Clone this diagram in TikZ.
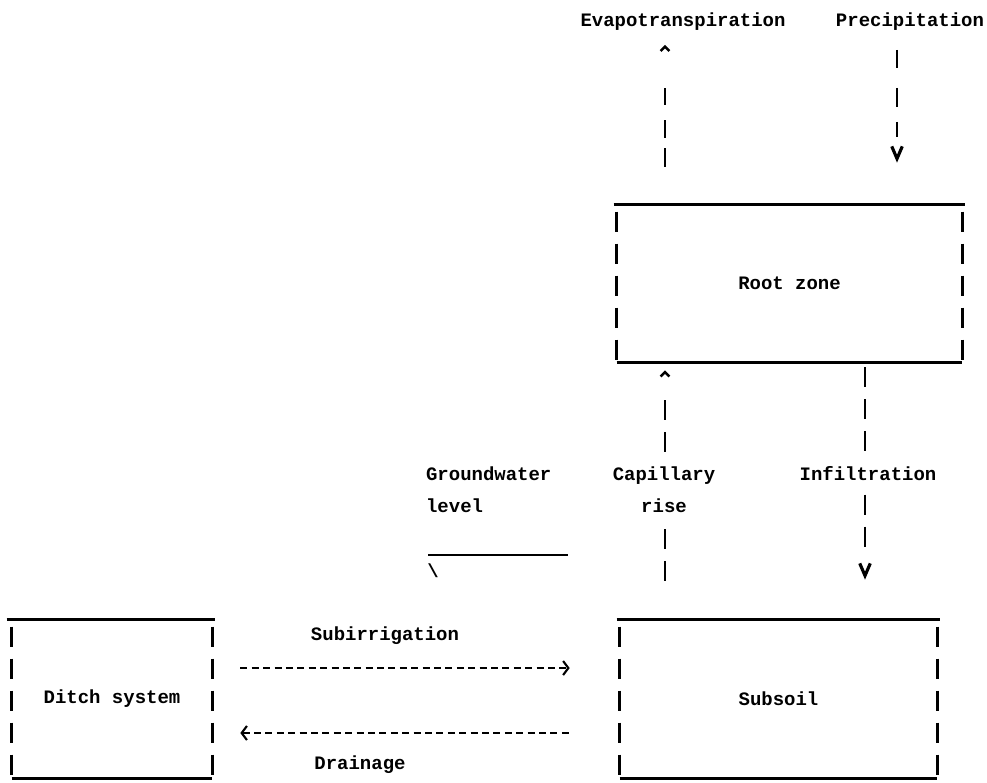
\documentclass[tikz,border=0pt]{standalone}
\usepackage{fontspec}
\setmainfont{Liberation Mono}
\usetikzlibrary{arrows.meta}
\begin{document}
\begin{tikzpicture}[
x=0.02cm, y=-0.02cm,
>={Straight Barb[length=3pt,width=8pt,line width=1.2pt]},
down/.style={-{Straight Barb[length=7pt,width=6pt,line width=1.8pt]}},
up/.style={-{Straight Barb[length=2.5pt,width=5pt,line width=1.4pt]}},
every node/.style={font=\fontsize{10.8}{18.4}\selectfont\bfseries},
lbl/.style={inner sep=1pt},
box/.style={inner sep=0pt},
rim/.style={draw,line width=1.4pt},
side/.style={draw,line width=1.6pt,dash pattern=on 0.4cm off 0.24cm,shorten <=0.14cm},
flowv/.style={draw,line width=1.6pt,dash pattern=on 0.4cm off 0.24cm},
flowh/.style={draw,line width=1.2pt,dash pattern=on 0.14cm off 0.088cm},
]

\useasboundingbox (0,0) rectangle (987,782);

%boxes
\node[box,minimum width=6.9cm,minimum height=3.14cm] (rootz) at (789.5,283.5) {Root zone};
\node[box,minimum width=6.34cm,minimum height=3.16cm] (subsoil) at (778.5,699) {Subsoil};
\node[box,minimum width=4cm,minimum height=3.16cm] (ditch) at (112,699) {Ditch system};

\path[rim] ([xshift=-0.06cm]rootz.north west) -- ([xshift=0.06cm]rootz.north east);
\path[rim] (rootz.south west) -- (rootz.south east);
\path[side] (rootz.north west) -- (rootz.south west);
\path[side] (rootz.north east) -- (rootz.south east);

\path[rim] ([xshift=-0.06cm]subsoil.north west) -- ([xshift=0.06cm]subsoil.north east);
\path[rim] (subsoil.south west) -- (subsoil.south east);
\path[side] (subsoil.north west) -- (subsoil.south west);
\path[side] (subsoil.north east) -- (subsoil.south east);

\path[rim] ([xshift=-0.1cm]ditch.north west) -- ([xshift=0.06cm]ditch.north east);
\path[rim] (ditch.south west) -- (ditch.south east);
\path[side] (ditch.north west) -- (ditch.south west);
\path[side] (ditch.north east) -- (ditch.south east);

%labels
\node[lbl] (evap) at (683,22) {Evapotranspiration};
\node[lbl] (precip) at (910,22) {Precipitation};
\node[lbl,align=center] (cap) at (664,490) {Capillary\\rise};
\node[lbl] (infil) at (868,474) {Infiltration};
\node[lbl,align=left,anchor=west] (gw) at (424,490) {Groundwater\\level};
\node[lbl] (subirr) at (385,636) {Subirrigation};
\node[lbl] (drain) at (360,765) {Drainage};
\node[lbl] (slash) at (433,571) {\textbackslash};

%groundwater level
\path[rim] (428,555) -- (568,555);

%fluxes
\coordinate (evx) at (665,0);
\coordinate (prx) at (897,0);
\coordinate (capx) at (665,0);
\coordinate (infx) at (865,0);

\path[flowv,up,shorten <=0.76cm,shorten >=0.24cm,
  dash pattern=on 0.38cm off 0.2cm on 0.36cm off 0.3cm on 0.34cm off 2cm]
  (rootz.north -| evx) -- (evap.south -| evx);
\path[flowv,down,shorten <=0.34cm,shorten >=0.84cm,
  dash pattern=on 0.36cm off 0.4cm on 0.38cm off 0.3cm on 0.3cm off 2cm]
  (precip.south -| prx) -- (rootz.north -| prx);

\path[flowv,shorten <=0.78cm,shorten >=0.28cm] (subsoil.north -| capx) -- (cap.south -| capx);
\path[flowv,up,shorten <=0.26cm,shorten >=0.16cm,
  dash pattern=on 0.4cm off 0.24cm on 0.4cm off 2cm]
  (cap.north -| capx) -- (rootz.south -| capx);

\path[flowv,shorten <=0.1cm,shorten >=0.23cm] (rootz.south -| infx) -- (infil.north -| infx);
\path[flowv,down,shorten <=0.23cm,shorten >=0.8cm,
  dash pattern=on 0.4cm off 0.24cm on 0.4cm off 2cm]
  (infil.south -| infx) -- (subsoil.north -| infx);

\path[flowh,->,shorten <=0.56cm,shorten >=1cm] ([yshift=0.62cm]ditch.east) -- ([yshift=0.62cm]subsoil.west);
\path[flowh,<-,shorten <=0.56cm,shorten >=1cm] ([yshift=-0.68cm]ditch.east) -- ([yshift=-0.68cm]subsoil.west);

\end{tikzpicture}
\end{document}
